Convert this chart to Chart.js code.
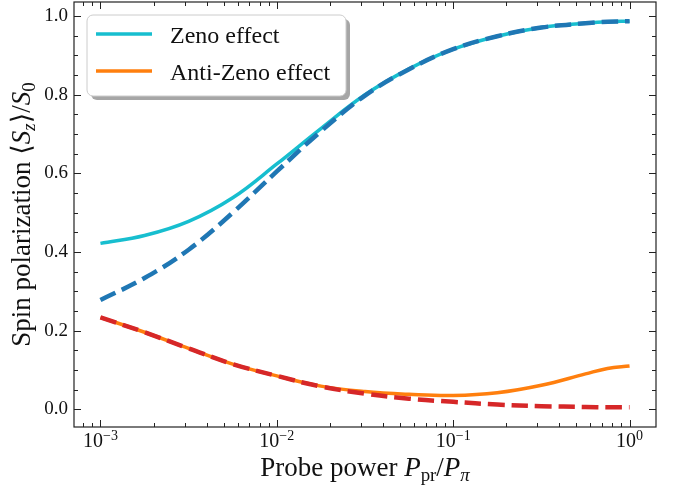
<!DOCTYPE html>
<html>
<head>
<meta charset="utf-8">
<script src="https://cdn.jsdelivr.net/npm/chart.js@4.4.0/dist/chart.umd.min.js"></script>
<style>
  html, body { margin: 0; padding: 0; background: #fff; }
</style>
</head>
<body>
<canvas id="chart" width="690" height="492"></canvas>
<script>
// probe power P_pr / P_pi (log grid)
var power = [0.001, 0.001778, 0.003162, 0.005623, 0.01, 0.01778, 0.03162, 0.05623,
             0.1, 0.1778, 0.3162, 0.5623, 0.7499, 1.0];

// spin polarization <S_z>/S_0
var zenoSolid  = [0.422, 0.442, 0.478, 0.538, 0.624, 0.714, 0.800, 0.866,
                  0.916, 0.949, 0.971, 0.982, 0.986, 0.987];
var zenoDashed = [0.278, 0.334, 0.406, 0.500, 0.605, 0.707, 0.798, 0.865,
                  0.916, 0.949, 0.971, 0.982, 0.986, 0.987];
var antiSolid  = [0.234, 0.196, 0.155, 0.115, 0.085, 0.059, 0.045, 0.038,
                  0.035, 0.042, 0.061, 0.090, 0.104, 0.110];
var antiDashed = [0.234, 0.196, 0.155, 0.115, 0.085, 0.058, 0.040, 0.027,
                  0.019, 0.012, 0.008, 0.006, 0.005, 0.005];

// tick labels
var xMajor = [-3, -2, -1, 0];           // exponents of 10
var yMajor = [0.0, 0.2, 0.4, 0.6, 0.8, 1.0];

var SERIF = '"Liberation Serif", "DejaVu Serif", serif';

function pts(ys) {
    return ys.map((y, i) => ({ x: power[i], y: y }));
}

// draw a line of text made of pieces: [text, italic, scale, shift]
function drawRich(ctx, parts, x, y, size, align) {
    var fontOf = p => (p[1] ? 'italic ' : '') + (size * (p[2] || 1)) + 'px ' + SERIF;
    var total = 0;
    parts.forEach(p => { ctx.font = fontOf(p); total += ctx.measureText(p[0]).width; });
    var cx = align === 'center' ? x - total / 2 : x;
    ctx.textAlign = 'left';
    ctx.textBaseline = 'alphabetic';
    parts.forEach(p => {
        ctx.font = fontOf(p);
        ctx.fillText(p[0], cx, y + (p[3] || 0) * size);
        cx += ctx.measureText(p[0]).width;
    });
}

var frame = {
    id: 'frame',
    afterDraw(chart) {
        var ctx = chart.ctx, a = chart.chartArea;
        var xs = chart.scales.x, ys = chart.scales.y;
        ctx.save();
        ctx.strokeStyle = '#222';
        ctx.fillStyle = '#111';
        ctx.lineWidth = 1.2;
        ctx.strokeRect(a.left, a.top, a.right - a.left, a.bottom - a.top);

        // x ticks, inward on bottom and top
        ctx.lineWidth = 1;
        for (var d = -4; d <= 0; d++) {
            for (var m = 1; m <= 9; m++) {
                var v = m * Math.pow(10, d);
                if (v < xs.min || v > xs.max) continue;
                var px = Math.round(xs.getPixelForValue(v)) + 0.5;
                var len = m === 1 ? 7 : 4;
                ctx.beginPath();
                ctx.moveTo(px, a.bottom); ctx.lineTo(px, a.bottom - len);
                ctx.moveTo(px, a.top); ctx.lineTo(px, a.top + len);
                ctx.stroke();
            }
        }
        // y ticks, inward on left and right
        for (var k = 0; k <= 20; k++) {
            var yv = k * 0.05;
            var py = Math.round(ys.getPixelForValue(yv)) + 0.5;
            var ylen = k % 4 === 0 ? 7 : 4;
            ctx.beginPath();
            ctx.moveTo(a.left, py); ctx.lineTo(a.left + ylen, py);
            ctx.moveTo(a.right, py); ctx.lineTo(a.right - ylen, py);
            ctx.stroke();
        }

        // y tick labels
        ctx.font = '19px ' + SERIF;
        ctx.textAlign = 'right';
        ctx.textBaseline = 'middle';
        yMajor.forEach(v => ctx.fillText(v.toFixed(1), a.left - 6, ys.getPixelForValue(v)));

        // x tick labels 10^n
        xMajor.forEach(e => {
            var cx = xs.getPixelForValue(Math.pow(10, e));
            ctx.font = '20px ' + SERIF;
            var w1 = ctx.measureText('10').width;
            var sup = e === 0 ? '0' : '\u2212' + (-e);
            ctx.font = '14px ' + SERIF;
            var w2 = ctx.measureText(sup).width;
            var x0 = cx - (w1 + w2) / 2;
            ctx.textAlign = 'left';
            ctx.textBaseline = 'alphabetic';
            ctx.font = '20px ' + SERIF;
            ctx.fillText('10', x0, 447);
            ctx.font = '14px ' + SERIF;
            ctx.fillText(sup, x0 + w1, 440);
        });

        // axis titles
        drawRich(ctx, [
            ['Probe power ', false], ['P', true], ['pr', false, 0.7, 0.2],
            ['/', false], ['P', true], ['\u03c0', true, 0.7, 0.2]
        ], (a.left + a.right) / 2, 476, 27, 'center');

        ctx.save();
        ctx.translate(30, (a.top + a.bottom) / 2);
        ctx.rotate(-Math.PI / 2);
        drawRich(ctx, [
            ['Spin polarization ', false], ['\u27e8', false], ['S', true], ['z', true, 0.7, 0.2],
            ['\u27e9', false], ['/', false], ['S', true], ['0', false, 0.7, 0.2]
        ], 0, 0, 27, 'center');
        ctx.restore();

        // legend with shadow
        var lx = 87, ly = 15, lw = 259, lh = 81, r = 6;
        function box(x, y) {
            ctx.beginPath();
            ctx.roundRect(x, y, lw, lh, r);
        }
        ctx.fillStyle = 'rgba(128,128,128,0.7)';
        box(lx + 4, ly + 4); ctx.fill();
        ctx.fillStyle = '#fff';
        ctx.strokeStyle = '#cccccc';
        ctx.lineWidth = 1;
        box(lx, ly); ctx.fill(); ctx.stroke();

        var entries = chart.data.datasets.filter(ds => ds.label);
        entries.forEach((ds, i) => {
            var yy = 34 + i * 37;
            ctx.strokeStyle = ds.borderColor;
            ctx.lineWidth = 3.5;
            ctx.beginPath();
            ctx.moveTo(96, yy); ctx.lineTo(152, yy);
            ctx.stroke();
            ctx.fillStyle = '#111';
            ctx.font = '24px ' + SERIF;
            ctx.textAlign = 'left';
            ctx.textBaseline = 'alphabetic';
            ctx.fillText(ds.label, 170, yy + 9);
        });
        ctx.restore();
    }
};

var ctx = document.getElementById('chart');
var myChart = new Chart(ctx, {
    type: 'line',
    data: {
        datasets: [
            { label: 'Zeno effect', data: pts(zenoSolid), borderColor: '#17becf', borderWidth: 3.5, order: 3 },
            { label: 'Anti-Zeno effect', data: pts(antiSolid), borderColor: '#ff7f0e', borderWidth: 3.5, order: 2 },
            { label: '', data: pts(zenoDashed), borderColor: '#1f77b4', borderWidth: 4.5, borderDash: [16.5, 7], order: 1 },
            { label: '', data: pts(antiDashed), borderColor: '#d62728', borderWidth: 4.5, borderDash: [16.5, 7], order: 0 }
        ]
    },
    options: {
        responsive: false,
        animation: false,
        devicePixelRatio: 1,
        layout: { padding: { left: 74, top: 2, right: 34, bottom: 65 } },
        elements: {
            point: { radius: 0 },
            line: { tension: 0.4, borderCapStyle: 'butt', fill: false }
        },
        scales: {
            x: { type: 'logarithmic', display: false, min: Math.pow(10, -3.15), max: Math.pow(10, 0.15) },
            y: { type: 'linear', display: false, min: -0.045, max: 1.036 }
        },
        plugins: {
            legend: { display: false },
            tooltip: { enabled: false }
        }
    },
    plugins: [frame]
});
</script>
</body>
</html>
